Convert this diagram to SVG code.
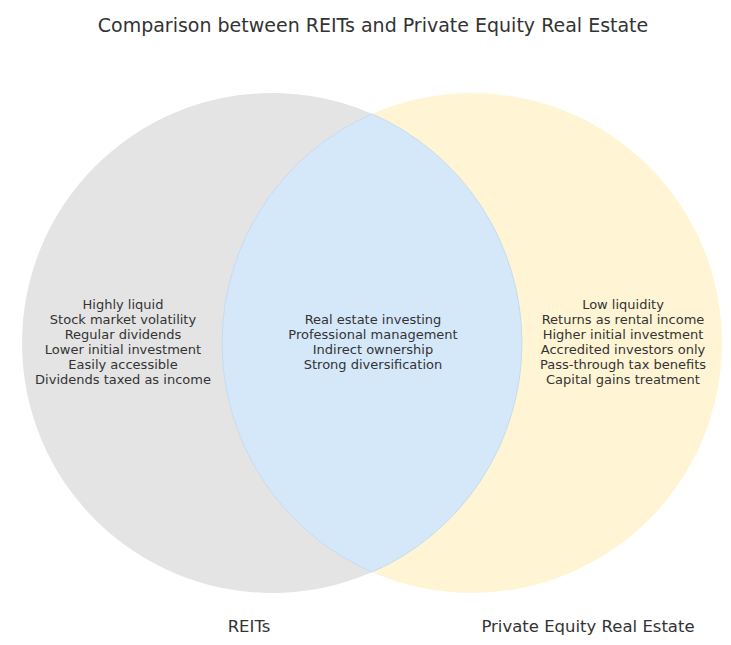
<svg xmlns="http://www.w3.org/2000/svg" width="731" height="645" viewBox="0 0 731 645">
<style>
text{font-family:"DejaVu Sans",sans-serif;fill:#333;text-anchor:middle}
.t{font-size:13px}
.l{font-size:16.5px}
</style>
<rect width="731" height="645" fill="#fff"/>
<text x="373" y="32" style="font-size:19px">Comparison between REITs and Private Equity Real Estate</text>
<g id="reits"><circle cx="272" cy="343" r="250" fill="#e4e4e4"/></g>
<g id="pere"><circle cx="472" cy="343" r="250" fill="#fff5d5"/></g>
<g id="overlap"><path d="M372,113.9 A250,250 0 0,1 372,572.1 A250,250 0 0,1 372,113.9Z" fill="#d5e8fa" stroke="#c5dcee" stroke-width="1"/></g>
<g class="t">
<text x="123" y="309">Highly liquid</text>
<text x="123" y="324">Stock market volatility</text>
<text x="123" y="339">Regular dividends</text>
<text x="123" y="354">Lower initial investment</text>
<text x="123" y="369">Easily accessible</text>
<text x="123" y="384">Dividends taxed as income</text>
<text x="373" y="324">Real estate investing</text>
<text x="373" y="339">Professional management</text>
<text x="373" y="354">Indirect ownership</text>
<text x="373" y="369">Strong diversification</text>
<text x="623" y="309">Low liquidity</text>
<text x="623" y="324">Returns as rental income</text>
<text x="623" y="339">Higher initial investment</text>
<text x="623" y="354">Accredited investors only</text>
<text x="623" y="369">Pass-through tax benefits</text>
<text x="623" y="384">Capital gains treatment</text>
</g>
<text class="l" x="249" y="632">REITs</text>
<text class="l" x="588" y="632">Private Equity Real Estate</text>
</svg>
